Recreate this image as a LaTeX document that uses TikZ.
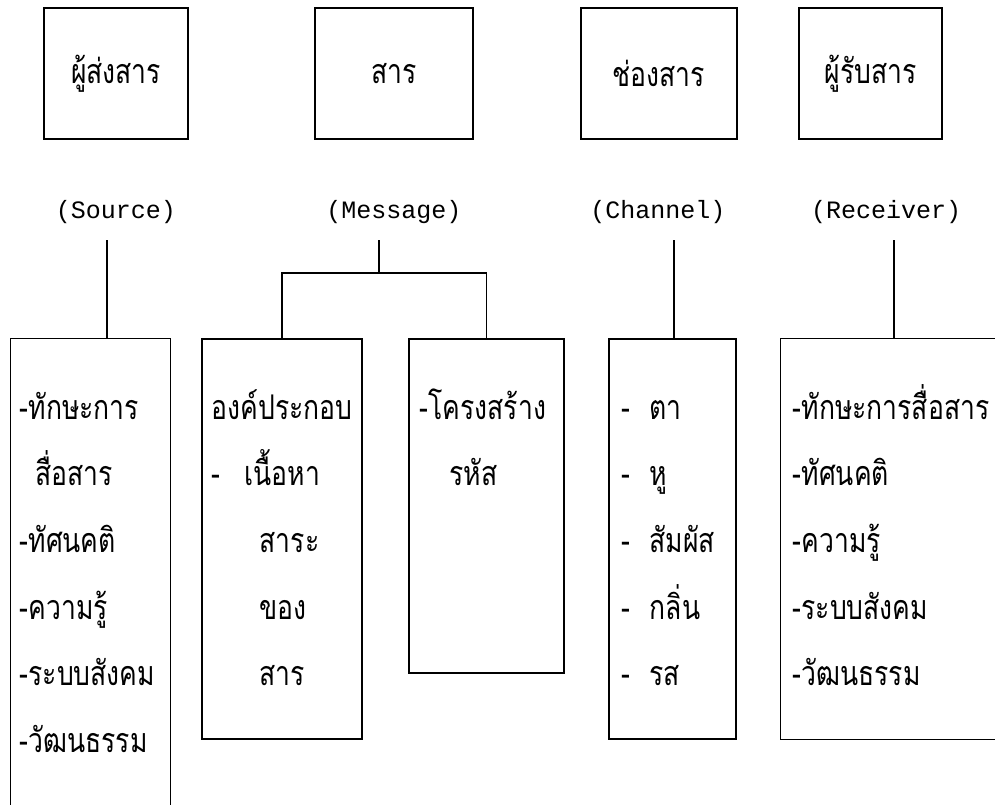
\documentclass[tikz,border=0pt]{standalone}
\usepackage{fontspec}
\newfontfamily\thaifont[Script=Thai,FakeStretch=0.78]{Loma}
\newfontfamily\monofont{Liberation Mono}
\begin{document}
\begin{tikzpicture}[x=1pt,y=-1pt, line width=1.4pt,
  thaitext/.style={font=\thaifont\fontsize{34}{38}\selectfont},
  topbox/.style={draw, thaitext, inner sep=0pt},
  lowbox/.style={draw, inner sep=0pt},
  openbox/.style={draw=none, inner sep=0pt},
  lbl/.style={font=\monofont\fontsize{25}{30}\selectfont, anchor=base, inner sep=0pt},
  item/.style={thaitext, anchor=base west, inner sep=0pt}]
\useasboundingbox (0,0) rectangle (995,804);
% top boxes
\node[topbox, minimum width=144pt, minimum height=131pt] (src) at (116,73.5) {ผู้ส่งสาร};
\node[topbox, minimum width=158pt, minimum height=131pt] (msg) at (394,73.5) {สาร};
\node[topbox, minimum width=156pt, minimum height=131pt] (chn) at (659,73.5) {ช่องสาร};
\node[topbox, minimum width=143pt, minimum height=131pt] (rcv) at (870.5,73.5) {ผู้รับสาร};
% labels
\node[lbl] (srcl) at (116,218) {(Source)};
\node[lbl] (msgl) at (394,218) {(Message)};
\node[lbl] (chnl) at (658,218) {(Channel)};
\node[lbl] (rcvl) at (886,218) {(Receiver)};
% lower boxes
\node[openbox, minimum width=159pt, minimum height=470pt] (srcb) at (90.5,574) {};
\node[lowbox, minimum width=160pt, minimum height=400pt] (msgA) at (282,539) {};
\node[lowbox, minimum width=155pt, minimum height=334pt] (msgB) at (486.5,506) {};
\node[lowbox, minimum width=127pt, minimum height=400pt] (chnb) at (672.5,539) {};
\node[openbox, minimum width=230pt, minimum height=400pt] (rcvb) at (896,539) {};
\draw (srcb.south west) -- (srcb.north west) -- (srcb.north east) -- (srcb.south east);
\draw (rcvb.north east) -- (rcvb.north west) -- (rcvb.south west) -- (rcvb.south east);
% connectors
\coordinate (s0) at (107,240);
\coordinate (m0) at (379,240);
\coordinate (mj) at (379,273);
\coordinate (c0) at (674,240);
\coordinate (r0) at (894,240);
\draw (s0) -- (s0 |- srcb.north);
\draw (m0) -- (mj);
\draw (msgA.north) |- (mj) -| (msgB.north);
\draw (c0) -- (c0 |- chnb.north);
\draw (r0) -- (r0 |- rcvb.north);
% source items
\node[item] (s1) at (19,419) {-ทักษะการ};
\node[item] (s2) at (35,485) {สื่อสาร};
\node[item] (s3) at (19,552) {-ทัศนคติ};
\node[item] (s4) at (19,619) {-ความรู้};
\node[item] (s5) at (19,685) {-ระบบสังคม};
\node[item] (s6) at (19,752) {-วัฒนธรรม};
% message items
\node[item] (a1) at (211,419) {องค์ประกอบ};
\node[item] (a2d) at (211,485) {-};
\node[item] (a2) at (244,485) {เนื้อหา};
\node[item] (a3) at (259,552) {สาระ};
\node[item] (a4) at (259,619) {ของ};
\node[item] (a5) at (259,685) {สาร};
\node[item] (b1) at (419,419) {-โครงสร้าง};
\node[item] (b2) at (449,485) {รหัส};
% channel items
\foreach \y/\t [count=\i] in {419/ตา,485/หู,552/สัมผัส,619/กลิ่น,685/รส}{
  \node[item] (cd\i) at (621,\y) {-};
  \node[item] (c\i) at (649,\y) {\t};
}
% receiver items
\node[item] (r1) at (792,419) {-ทักษะการสื่อสาร};
\node[item] (r2) at (792,485) {-ทัศนคติ};
\node[item] (r3) at (792,552) {-ความรู้};
\node[item] (r4) at (792,619) {-ระบบสังคม};
\node[item] (r5) at (792,685) {-วัฒนธรรม};
\end{tikzpicture}
\end{document}
